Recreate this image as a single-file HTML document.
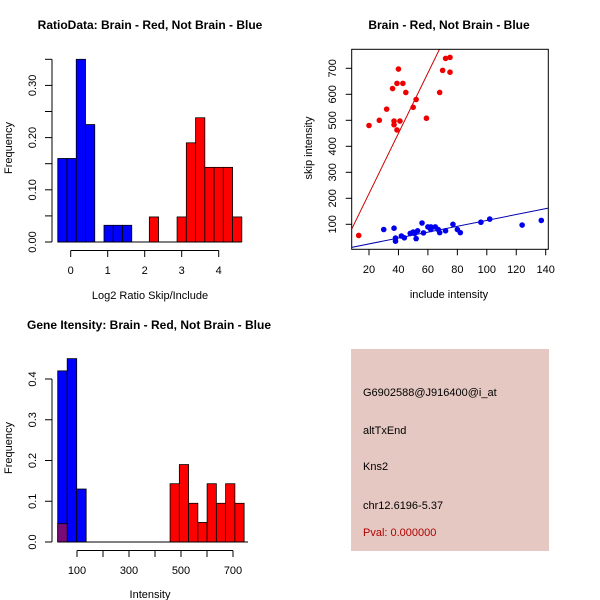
<!DOCTYPE html>
<html><head><meta charset="utf-8"><style>
body{margin:0;background:#fff}
svg{display:block;font-family:"Liberation Sans","DejaVu Sans",sans-serif}
</style></head><body>
<svg id="c" width="600" height="600" viewBox="0 0 600 600">
<rect width="600" height="600" fill="#fff"/>
<g id="p1"></g>
<g id="p2"></g>
<g id="p3"></g>
<g id="p4">
<rect x="351" y="349" width="198" height="202" fill="#e5c8c1"/>
<text x="363" y="396" font-size="11">G6902588@J916400@i_at</text>
<text x="363" y="434" font-size="11">altTxEnd</text>
<text x="363" y="470" font-size="11">Kns2</text>
<text x="363" y="509" font-size="11">chr12.6196-5.37</text>
<text x="363" y="536" font-size="11" fill="#b00000">Pval: 0.000000</text>
</g>
</svg>
<script>
// ---- Plot 1 data
const p1BlueStart = -0.35, p1BinW = 0.25;
const p1Blue = [0.16,0.16,0.35,0.225,0,0.032,0.032,0.032];
const p1RedStart = 2.125;
const p1Red = [0.048,0,0,0.048,0.19,0.238,0.143,0.143,0.143,0.048];
const p1XTicks = [0,1,2,3,4];
const p1YTicks = [0,0.05,0.10,0.15,0.20,0.25,0.30,0.35];
const p1YLabels = ["0.00","","0.10","","0.20","","0.30",""];
// ---- Plot 2 data
const redInclude = [13,20,27,32,36,37,37,39,39,40,41,43,45,50,52,59,68,70,72,75,75];
const redSkip =    [57,480,500,543,622,497,483,463,642,697,497,642,607,550,580,508,607,692,738,742,685];
const blueInclude = [30,37,38,38,42,44,48,50,51,52,53,56,57,60,62,62,65,67,68,72,77,80,82,96,102,124,137];
const blueSkip =    [80,85,47,35,55,48,65,70,65,45,75,105,67,90,90,80,90,80,68,75,100,80,68,108,120,97,115];
const redFit = [-14, 11.6];
const blueFit = [2, 1.13];
const p2XTicks = [20,40,60,80,100,120,140];
const p2YTicks = [100,200,300,400,500,600,700];
// ---- Plot 3 data
const p3BlueStart = 25.8, p3BlueW = 36.5;
const p3Blue = [0.42,0.45,0.13];
const p3RedStart = 458, p3RedW = 35.6;
const p3Red = [0.143,0.19,0.095,0.048,0.143,0.095,0.143,0.095];
const p3Overlap = [0.045];
const p3XTicks = [100,200,300,400,500,600,700];
const p3XLabels = ["100","","300","","500","","700"];
const p3YTicks = [0,0.1,0.2,0.3,0.4];
const p3YLabels = ["0.0","0.1","0.2","0.3","0.4"];

const NS="http://www.w3.org/2000/svg";
function mk(parent,tag,attrs,text){const e=document.createElementNS(NS,tag);for(const k in attrs)e.setAttribute(k,attrs[k]);if(text!==undefined)e.textContent=text;parent.appendChild(e);return e;}

// Plot 1
(function(){
const g=document.getElementById('p1');
const sx=v=>70.7+v*37, sy=v=>242-v*522;
p1Blue.forEach((v,i)=>{if(v<=0)return;const x0=sx(p1BlueStart+i*p1BinW),x1=sx(p1BlueStart+(i+1)*p1BinW);
const r=mk(g,'rect',{x:x0,y:sy(v),width:x1-x0,height:sy(0)-sy(v),fill:'#0000ff',stroke:'#000','stroke-width':0.8});

});
p1Red.forEach((v,i)=>{if(v<=0)return;const x0=sx(p1RedStart+i*p1BinW),x1=sx(p1RedStart+(i+1)*p1BinW);
const r=mk(g,'rect',{x:x0,y:sy(v),width:x1-x0,height:sy(0)-sy(v),fill:'#ff0000',stroke:'#000','stroke-width':0.8});

});
mk(g,'line',{x1:sx(-0.35),x2:sx(4.6),y1:242,y2:242,stroke:'#000'});
mk(g,'line',{x1:sx(0),x2:sx(4),y1:250.5,y2:250.5,stroke:'#000'});
p1XTicks.forEach(t=>{mk(g,'line',{x1:sx(t),x2:sx(t),y1:250.5,y2:257,stroke:'#000'});
const l=mk(g,'text',{x:sx(t),y:274,'font-size':11,'text-anchor':'middle'},String(t));

});
mk(g,'line',{x1:52,x2:52,y1:sy(0),y2:sy(0.35),stroke:'#000'});
p1YTicks.forEach((t,i)=>{mk(g,'line',{x1:45,x2:52,y1:sy(t),y2:sy(t),stroke:'#000'});
if(p1YLabels[i]){const l=mk(g,'text',{x:0,y:0,'font-size':11,'text-anchor':'middle',transform:`translate(36,${sy(t)}) rotate(-90)`},p1YLabels[i]);

}});
mk(g,'text',{x:0,y:0,'font-size':11,'text-anchor':'middle',transform:'translate(12,148) rotate(-90)',},'Frequency');
mk(g,'text',{x:150,y:299,'font-size':11,'text-anchor':'middle',},'Log2 Ratio Skip/Include');
mk(g,'text',{x:150,y:29,'font-size':12,'font-weight':'bold','text-anchor':'middle',},'RatioData: Brain - Red, Not Brain - Blue');
})();

// Plot 2
(function(){
const g=document.getElementById('p2');
const sx=v=>369+(v-20)*1.4725, sy=v=>224.3-(v-100)*0.26;
const L=351.7,R=548.3,T=49.3,B=249.3;
const cp=mk(g,'clipPath',{id:'clip2'});mk(cp,'rect',{x:L,y:T,width:R-L,height:B-T});
const lg=mk(g,'g',{'clip-path':'url(#clip2)'});
const xa=(L-369)/1.4725+20, xb=(R-369)/1.4725+20;
mk(lg,'line',{x1:sx(xa),y1:sy(redFit[0]+redFit[1]*xa),x2:sx(xb),y2:sy(redFit[0]+redFit[1]*xb),stroke:'#cc0000','stroke-width':1,});
mk(lg,'line',{x1:sx(xa),y1:sy(blueFit[0]+blueFit[1]*xa),x2:sx(xb),y2:sy(blueFit[0]+blueFit[1]*xb),stroke:'#0000aa','stroke-width':1,});
redInclude.forEach((v,i)=>{const c=mk(g,'circle',{cx:sx(v),cy:sy(redSkip[i]),r:2.8,fill:'#ee0000'});

});
blueInclude.forEach((v,i)=>{const c=mk(g,'circle',{cx:sx(v),cy:sy(blueSkip[i]),r:2.8,fill:'#0000ee'});

});
mk(g,'rect',{x:L,y:T,width:R-L,height:B-T,fill:'none',stroke:'#000',});
p2XTicks.forEach(t=>{mk(g,'line',{x1:sx(t),x2:sx(t),y1:B,y2:B+6,stroke:'#000'});
const l=mk(g,'text',{x:sx(t),y:273,'font-size':11,'text-anchor':'middle'},String(t));

});
p2YTicks.forEach(t=>{mk(g,'line',{x1:L-6,x2:L,y1:sy(t),y2:sy(t),stroke:'#000'});
const l=mk(g,'text',{x:0,y:0,'font-size':11,'text-anchor':'middle',transform:`translate(336,${sy(t)}) rotate(-90)`},String(t));

});
mk(g,'text',{x:0,y:0,'font-size':11,'text-anchor':'middle',transform:'translate(312,148) rotate(-90)',},'skip intensity');
mk(g,'text',{x:449,y:298,'font-size':11,'text-anchor':'middle',},'include intensity');
mk(g,'text',{x:449,y:29,'font-size':12,'font-weight':'bold','text-anchor':'middle',},'Brain - Red, Not Brain - Blue');
})();

// Plot 3
(function(){
const g=document.getElementById('p3');
const sx=v=>77+(v-100)*0.26, sy=v=>542-v*407.5;
p3Blue.forEach((v,i)=>{const x0=sx(p3BlueStart+i*p3BlueW),x1=sx(p3BlueStart+(i+1)*p3BlueW);
const r=mk(g,'rect',{x:x0,y:sy(v),width:x1-x0,height:sy(0)-sy(v),fill:'#0000ff',stroke:'#000','stroke-width':0.8});

});
p3Overlap.forEach((v,i)=>{const x0=sx(p3BlueStart+i*p3BlueW),x1=sx(p3BlueStart+(i+1)*p3BlueW);
const r=mk(g,'rect',{x:x0,y:sy(v),width:x1-x0,height:sy(0)-sy(v),fill:'#7a0a78',stroke:'#000','stroke-width':0.8});

});
p3Red.forEach((v,i)=>{const x0=sx(p3RedStart+i*p3RedW),x1=sx(p3RedStart+(i+1)*p3RedW);
const r=mk(g,'rect',{x:x0,y:sy(v),width:x1-x0,height:sy(0)-sy(v),fill:'#ff0000',stroke:'#000','stroke-width':0.8});

});
mk(g,'line',{x1:58,x2:248,y1:542,y2:542,stroke:'#000'});
mk(g,'line',{x1:sx(100),x2:sx(700),y1:550.5,y2:550.5,stroke:'#000'});
p3XTicks.forEach((t,i)=>{mk(g,'line',{x1:sx(t),x2:sx(t),y1:550.5,y2:557,stroke:'#000'});
if(p3XLabels[i]){const l=mk(g,'text',{x:sx(t),y:574,'font-size':11,'text-anchor':'middle'},p3XLabels[i]);

}});
mk(g,'line',{x1:52,x2:52,y1:sy(0),y2:sy(0.4),stroke:'#000'});
p3YTicks.forEach((t,i)=>{mk(g,'line',{x1:45,x2:52,y1:sy(t),y2:sy(t),stroke:'#000'});
const l=mk(g,'text',{x:0,y:0,'font-size':11,'text-anchor':'middle',transform:`translate(36,${sy(t)}) rotate(-90)`},p3YLabels[i]);

});
mk(g,'text',{x:0,y:0,'font-size':11,'text-anchor':'middle',transform:'translate(12,448) rotate(-90)',},'Frequency');
mk(g,'text',{x:150,y:598,'font-size':11,'text-anchor':'middle',},'Intensity');
mk(g,'text',{x:149,y:329,'font-size':12,'font-weight':'bold','text-anchor':'middle',},'Gene Itensity: Brain - Red, Not Brain - Blue');
})();
</script>
</body></html>
